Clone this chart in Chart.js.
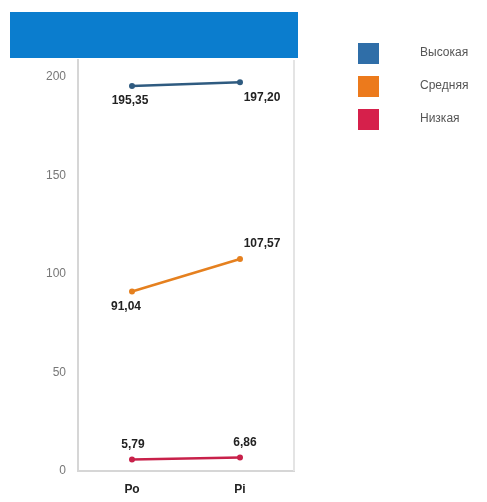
<!DOCTYPE html>
<html>
<head>
<meta charset="utf-8">
<script src="https://cdn.jsdelivr.net/npm/chart.js@4"></script>
<style>
  body { margin: 0; background: #fff; }
  #wrap { position: relative; width: 487px; height: 502px; }
</style>
</head>
<body>
<div id="wrap"><canvas id="chart" width="487" height="502"></canvas></div>
<script>
var categories = ['Ро', 'Рi'];
var seriesNames = ['Высокая', 'Средняя', 'Низкая'];
var highValues = [195.35, 197.20];
var midValues = [91.04, 107.57];
var lowValues = [5.79, 6.86];
var yTicks = [0, 50, 100, 150, 200];
var colors = ['#2f6ea8', '#ec7a1c', '#d6204b'];
var lineColors = ['#2f5b80', '#e5801f', '#c8214a'];
// label placement per point: [dx, side] side 1 = below, -1 = above
var labelPos = [
    [[-2, 1], [22, 1]],
    [[-6, 1], [22, -1]],
    [[1, -1], [5, -1]]
];

function fmt(v) {
    return v.toFixed(2).replace('.', ',');
}

var decor = {
    id: 'decor',
    beforeDraw: function (chart) {
        var c = chart.ctx;
        c.save();
        c.fillStyle = '#0b7dce';
        c.fillRect(10, 12, 288, 46);
        c.restore();
    },
    afterDraw: function (chart) {
        var c = chart.ctx;
        var a = chart.chartArea;
        c.save();
        // right border of plot
        c.strokeStyle = '#e4e4e4';
        c.lineWidth = 2;
        c.beginPath();
        c.moveTo(a.right, a.top);
        c.lineTo(a.right, a.bottom);
        c.stroke();

        // value labels
        c.font = 'bold 12px "Liberation Sans", Arial, sans-serif';
        c.fillStyle = '#222';
        c.textAlign = 'center';
        chart.data.datasets.forEach(function (ds, i) {
            var meta = chart.getDatasetMeta(i);
            meta.data.forEach(function (pt, j) {
                var p = labelPos[i][j];
                c.textBaseline = p[1] > 0 ? 'top' : 'bottom';
                c.fillText(fmt(ds.data[j]), pt.x + p[0], pt.y + p[1] * 9);
            });
        });

        // legend
        c.font = '12px "Liberation Sans", Arial, sans-serif';
        c.textAlign = 'left';
        c.textBaseline = 'middle';
        chart.data.datasets.forEach(function (ds, i) {
            var y = 43 + i * 33;
            c.fillStyle = colors[i];
            c.fillRect(358, y, 21, 21);
            c.fillStyle = '#555';
            c.fillText(ds.label, 420, y + 10);
        });
        c.restore();
    }
};

var ctx = document.getElementById('chart');
var myChart = new Chart(ctx, {
    type: 'line',
    data: {
        labels: categories,
        datasets: [
            { label: seriesNames[0], data: highValues, borderColor: lineColors[0], backgroundColor: lineColors[0] },
            { label: seriesNames[1], data: midValues, borderColor: lineColors[1], backgroundColor: lineColors[1] },
            { label: seriesNames[2], data: lowValues, borderColor: lineColors[2], backgroundColor: lineColors[2] }
        ]
    },
    options: {
        responsive: false,
        animation: false,
        layout: { padding: { left: 0, top: 60, right: 193, bottom: 4 } },
        elements: {
            line: { borderWidth: 2.5, tension: 0 },
            point: { radius: 3, borderWidth: 0 }
        },
        plugins: {
            legend: { display: false },
            tooltip: { enabled: false }
        },
        scales: {
            x: {
                offset: true,
                grid: { display: false, drawTicks: false },
                border: { color: '#d6d6d6', width: 2 },
                afterFit: function (axis) { axis.height = 27; },
                ticks: {
                    padding: 11,
                    color: '#222',
                    font: { family: '"Liberation Sans", Arial, sans-serif', size: 12, weight: 'bold' }
                }
            },
            y: {
                min: 0,
                max: 208.5,
                afterBuildTicks: function (axis) {
                    axis.ticks = yTicks.map(function (v) { return { value: v }; });
                },
                grid: { display: false, drawTicks: false },
                border: { color: '#d6d6d6', width: 2 },
                afterFit: function (axis) { axis.width = 78; },
                ticks: {
                    padding: 12,
                    color: '#777',
                    font: { family: '"Liberation Sans", Arial, sans-serif', size: 12 }
                }
            }
        }
    },
    plugins: [decor]
});
</script>
</body>
</html>
